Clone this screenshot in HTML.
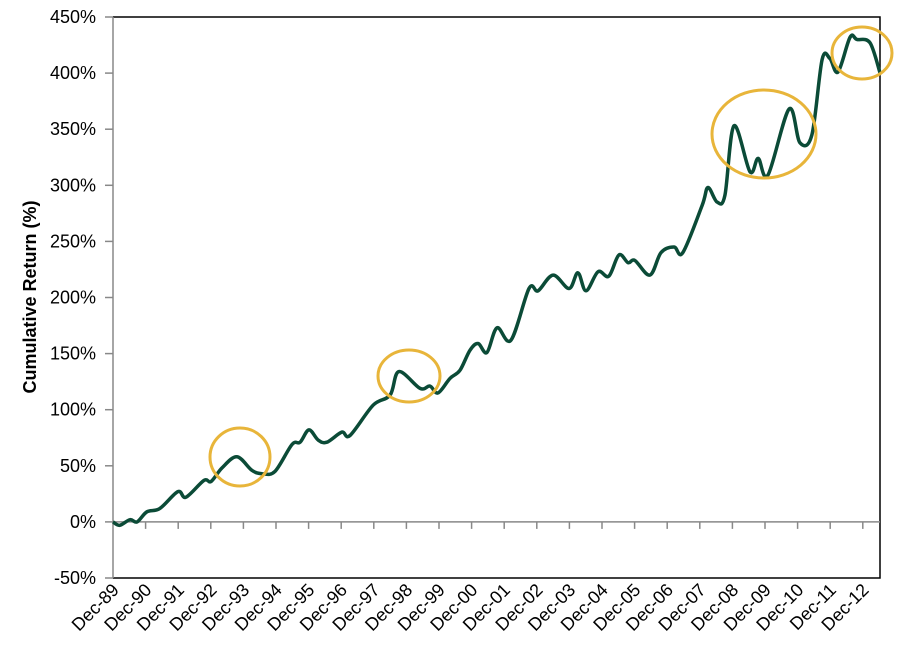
<!DOCTYPE html>
<html><head><meta charset="utf-8"><style>
html,body{margin:0;padding:0;background:#fff;}
svg{display:block;font-family:"Liberation Sans",Arial,sans-serif;}
</style></head><body>
<svg id="chart" width="910" height="661" viewBox="0 0 910 661">
<g id="grid"></g>
<g id="axes"></g>
<path id="line" fill="none" stroke="#0B4B37" stroke-width="3.5" stroke-linejoin="round"/>
<g id="notes" fill="none" stroke="#E8B53A" stroke-width="3">
<ellipse cx="240" cy="457" rx="30" ry="29"/>
<ellipse cx="409" cy="376" rx="31" ry="26"/>
<ellipse cx="764" cy="134" rx="52" ry="44"/>
<ellipse cx="862" cy="53" rx="30" ry="26"/>
</g>
<text transform="translate(36,297) rotate(-90)" text-anchor="middle" font-size="18" font-weight="bold">Cumulative Return (%)</text>
</svg>
<script>
const yTicks=[-50,0,50,100,150,200,250,300,350,400,450];
const xLabels=["Dec-89","Dec-90","Dec-91","Dec-92","Dec-93","Dec-94","Dec-95","Dec-96","Dec-97","Dec-98","Dec-99","Dec-00","Dec-01","Dec-02","Dec-03","Dec-04","Dec-05","Dec-06","Dec-07","Dec-08","Dec-09","Dec-10","Dec-11","Dec-12"];
const years=[0,.21,.52,.74,1.04,1.44,1.99,2.24,2.79,3.01,3.34,3.80,4.26,4.57,4.97,5.49,5.74,6.01,6.29,6.56,7.02,7.27,7.98,8.50,8.77,9.42,9.72,9.97,10.34,10.64,10.95,11.20,11.47,11.78,12.21,12.76,13.04,13.50,13.99,14.26,14.51,14.88,15.21,15.52,15.80,16.01,16.47,16.81,17.21,17.48,18.07,18.25,18.53,18.77,19.05,19.54,19.79,20.09,20.74,21.07,21.44,21.75,21.99,22.24,22.61,22.82,23.22,23.53];
const returns=[0,-3,2,0,9,12,27,22,37,36,48,58,46,43,45,69,71,82,73,71,80,77,104,113,134,119,121,115,128,135,153,159,151,173,162,208,206,220,208,222,206,223,219,238,231,233,220,240,245,240,282,298,285,291,353,312,324,309,368,338,345,412,413,401,432,430,427,400];
const X0=113,X1=880,YT=17,YB=578,YMIN=-50,YMAX=450,STEP=32.6;
const xS=t=>X0+t*STEP;
const yS=v=>YB-(v-YMIN)/(YMAX-YMIN)*(YB-YT);
const NS="http://www.w3.org/2000/svg";
const axes=document.getElementById('axes');
function mk(tag,attrs,parent){const e=document.createElementNS(NS,tag);for(const k in attrs)e.setAttribute(k,attrs[k]);parent.appendChild(e);return e;}
let fr=mk('path',{d:`M${X0},${YT}H${X1}V${YB}H${X0}`,fill:'none',stroke:'#000','stroke-width':1.5},axes);


let ya=mk('line',{x1:X0,x2:X0,y1:YT,y2:YB,stroke:'#888','stroke-width':1.5},axes);


let za=mk('line',{x1:X0,x2:X1,y1:yS(0),y2:yS(0),stroke:'#888','stroke-width':1.5},axes);


yTicks.forEach(v=>{
 const y=yS(v);
 const tk=mk('line',{x1:X0-8,x2:X0,y1:y,y2:y,stroke:'#888','stroke-width':1.5},axes);
 
 
 const t=mk('text',{x:96,y:y+6,'text-anchor':'end','font-size':18},axes);
 t.textContent=v+'%';
 
 
});
xLabels.forEach((l,i)=>{
 const x=xS(i);
 if(i>0){const tk=mk('line',{x1:x,x2:x,y1:yS(0),y2:yS(0)+7,stroke:'#888','stroke-width':1.5},axes);
 
 }
 const t=mk('text',{transform:`translate(${x+7},${591}) rotate(-45)`,'text-anchor':'end','font-size':18},axes);
 t.textContent=l;
 
 
});
const P=years.map((t,i)=>[xS(t),yS(returns[i])]);
let d=`M${P[0][0]},${P[0][1]}`;
for(let i=0;i<P.length-1;i++){
 const p0=P[i-1]||P[i],p1=P[i],p2=P[i+1],p3=P[i+2]||P[i+1];
 const c1=[p1[0]+(p2[0]-p0[0])/6,p1[1]+(p2[1]-p0[1])/6];
 const c2=[p2[0]-(p3[0]-p1[0])/6,p2[1]-(p3[1]-p1[1])/6];
 d+=`C${c1[0].toFixed(1)},${c1[1].toFixed(1)} ${c2[0].toFixed(1)},${c2[1].toFixed(1)} ${p2[0].toFixed(1)},${p2[1].toFixed(1)}`;
}
document.getElementById('line').setAttribute('d',d);
</script>
</body></html>
